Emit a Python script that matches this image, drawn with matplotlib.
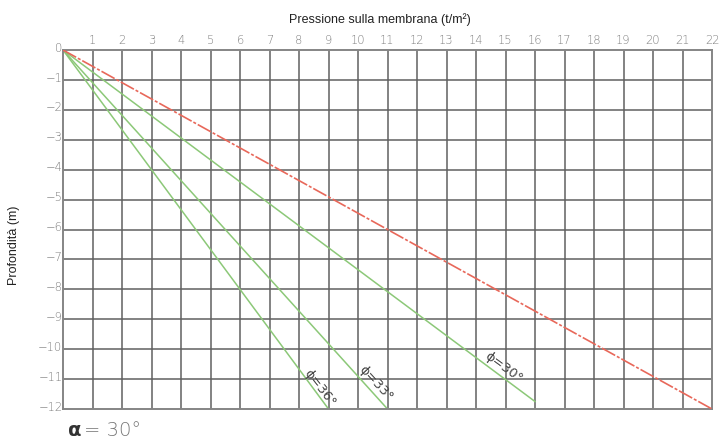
import matplotlib
matplotlib.use("Agg")
import matplotlib.pyplot as plt
import numpy as np

# Data
x_ticks = list(range(0, 23))
y_ticks = list(range(0, -13, -1))
red_x = [0, 22]
red_y = [0, -12]
phi_labels = ["ϕ=36°", "ϕ=33°", "ϕ=30°"]
green_end_x = [9, 11, 16]
green_end_y = [-12, -12, -11.75]
label_x = [8.7, 10.6, 14.95]
label_y = [-11.3, -11.15, -10.6]
label_rot = [-52, -47, -36]

fig = plt.figure(figsize=(7.24, 4.41), dpi=100)
ax = fig.add_axes([63/724, 1-409/441, (712-63)/724, (409-50)/441])
ax.set_xlim(0, 22)
ax.set_ylim(-12, 0)

grid_c = "#606060"
for xv in x_ticks[1:-1]:
    ax.axvline(xv, color=grid_c, lw=1.1, zorder=1)
for yv in y_ticks[1:-1]:
    ax.axhline(yv, color=grid_c, lw=1.1, zorder=1)
for s in ax.spines.values():
    s.set_color("#858585")
    s.set_linewidth(1.4)

ax.set_xticks([])
ax.set_yticks([])

tick_c = "#808080"
for xv in x_ticks[1:]:
    ax.text(xv, 0.12, str(xv), ha="center", va="bottom", fontsize=8.3,
            color=tick_c, family="DejaVu Sans", fontweight="light")
for yv in y_ticks:
    lab = "0" if yv == 0 else "\u2212" + str(-yv)
    ax.text(-0.02, yv + 0.08, lab, ha="right", va="center", fontsize=8.3,
            color=tick_c, family="DejaVu Sans", fontweight="light")

ax.plot(red_x, red_y, color="#e8685a", lw=1.2, dashes=(9, 1.2, 1.8, 1.2), zorder=3)
for ex, ey in zip(green_end_x, green_end_y):
    ax.plot([0, ex], [0, ey], color="#8cc878", lw=1.1, zorder=2)
for lab, lx, ly, r in zip(phi_labels, label_x, label_y, label_rot):
    ax.text(lx, ly, lab, rotation=r, ha="center", va="center", fontsize=9.5,
            color="#444444", rotation_mode="anchor", zorder=4,
            family="DejaVu Sans")

fig.text(380/724, 1-20/441, "Pressione sulla membrana (t/m²)", ha="center",
         va="center", fontsize=9, family="Liberation Sans", color="#222222")
fig.text(14/724, 1-245/441, "Profondità (m)", rotation=90, ha="center",
         va="center", fontsize=9, family="Liberation Sans", color="#222222")
fig.text(68/724, 1-430/441, "α", ha="left", va="center", fontsize=14,
         family="DejaVu Sans", color="#333333", fontweight="bold")
fig.text(84/724, 1-430/441, "= 30°", ha="left", va="center", fontsize=14,
         family="DejaVu Sans", color="#777777", fontweight="light")

fig.savefig("out.png", dpi=100)
